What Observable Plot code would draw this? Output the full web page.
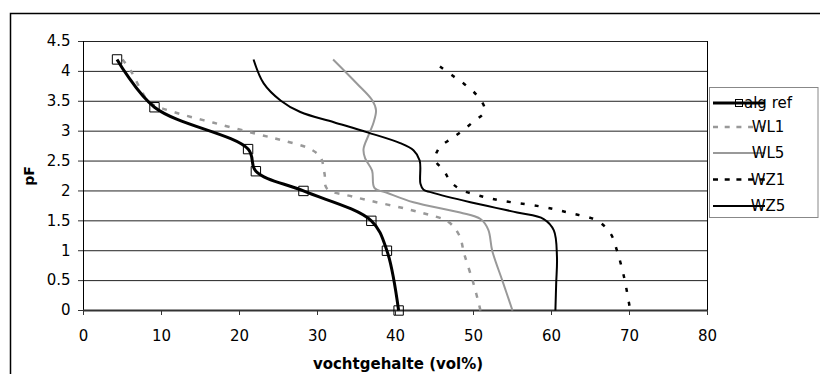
<!DOCTYPE html>
<html>
<head>
<meta charset="utf-8">
<script src="https://cdn.jsdelivr.net/npm/d3@7"></script>
<script src="https://cdn.jsdelivr.net/npm/@observablehq/plot@0.6"></script>
<style>
  html, body { margin: 0; padding: 0; background: #fff; }
  #chart { width: 820px; height: 374px; overflow: hidden; }
</style>
</head>
<body>
<div id="chart"></div>
<script>
// ---- tick labels ----
const xTicks = [0, 10, 20, 30, 40, 50, 60, 70, 80];
const yTicks = [0, 0.5, 1, 1.5, 2, 2.5, 3, 3.5, 4, 4.5];

// ---- series (x = vochtgehalte vol%, y = pF) ----
const seriesNames = ["alg ref", "WL1", "WL5", "WZ1", "WZ5"];

const algRefX  = [4.3, 9.1, 21.1, 22.1, 28.2, 36.9, 38.9, 40.4];
const algRefPF = [4.2, 3.4, 2.7, 2.33, 2.0, 1.5, 1.0, 0];

const wl1X  = [5.0, 6.2, 7.2, 8.5, 11.6, 16.7, 22.3, 25.7, 29.1, 30.4, 30.9, 31.2, 34.7, 43.2, 46.8, 48.2, 48.8, 50.0, 50.9];
const wl1PF = [4.2, 3.98, 3.73, 3.48, 3.32, 3.14, 2.95, 2.84, 2.70, 2.56, 2.29, 2.04, 1.9, 1.64, 1.48, 1.25, 0.95, 0.45, 0];

const wl5X  = [32.0, 35.1, 37.0, 37.5, 37.2, 36.6, 35.9, 36.1, 37.0, 37.3, 38.9, 42.3, 48.3, 50.9, 51.9, 52.4, 53.7, 55.0];
const wl5PF = [4.2, 3.79, 3.52, 3.35, 3.15, 2.95, 2.7, 2.55, 2.34, 2.05, 1.97, 1.81, 1.64, 1.53, 1.35, 1.0, 0.5, 0];

const wz1X  = [45.7, 47.3, 48.8, 50.3, 51.4, 51.3, 50.0, 48.5, 47.1, 45.6, 45.1, 46.2, 47.1, 48.4, 50.5, 53.5, 58.6, 62.4, 65.9, 67.6, 68.4, 69.3, 70.1];
const wz1PF = [4.08, 3.93, 3.79, 3.62, 3.4, 3.3, 3.16, 3.0, 2.87, 2.72, 2.52, 2.34, 2.15, 2.02, 1.93, 1.84, 1.74, 1.63, 1.5, 1.28, 1.0, 0.56, 0];

const wz5X  = [21.8, 23.1, 25.3, 27.8, 32.1, 36.4, 40.6, 42.3, 43.1, 43.2, 43.6, 44.5, 49.6, 55.6, 59.0, 60.3, 60.7, 60.6, 60.5];
const wz5PF = [4.2, 3.8, 3.51, 3.32, 3.15, 2.98, 2.8, 2.68, 2.51, 2.12, 2.02, 1.98, 1.81, 1.64, 1.53, 1.34, 0.9, 0.45, 0];

// ---- build rows ----
const rows = (name, xs, ys) => xs.map((x, i) => ({ name, x, y: ys[i] }));
const styles = {
  "alg ref": { stroke: "#000", width: 3,   dash: null,   legendDash: null },
  "WL1":     { stroke: "#999", width: 2.5, dash: "5,8",  legendDash: "5,6.7" },
  "WL5":     { stroke: "#999", width: 2,   dash: null,   legendDash: null },
  "WZ1":     { stroke: "#000", width: 2.5, dash: "4,10", legendDash: "5,6.7" },
  "WZ5":     { stroke: "#000", width: 2,   dash: null,   legendDash: null }
};
const data = {
  "alg ref": rows("alg ref", algRefX, algRefPF),
  "WL1": rows("WL1", wl1X, wl1PF),
  "WL5": rows("WL5", wl5X, wl5PF),
  "WZ1": rows("WZ1", wz1X, wz1PF),
  "WZ5": rows("WZ5", wz5X, wz5PF)
};

const drawOrder = ["WL1", "WL5", "WZ1", "WZ5", "alg ref"];
const lineMarks = drawOrder.map(n => Plot.line(data[n], {
  x: "x", y: "y", curve: "catmull-rom",
  stroke: styles[n].stroke, strokeWidth: styles[n].width,
  strokeDasharray: styles[n].dash, strokeLinecap: "butt", strokeLinejoin: "round"
}));

const plot = Plot.plot({
  width: 820, height: 374,
  marginLeft: 83, marginRight: 113, marginTop: 41, marginBottom: 64,
  style: { fontFamily: "DejaVu Sans, sans-serif", fontSize: "15px", color: "#000", background: "#fff", overflow: "hidden" },
  x: { domain: [0, 80], label: null },
  y: { domain: [0, 4.5], label: null },
  marks: [
    Plot.ruleY(yTicks.filter(d => d > 0), { stroke: "#222", strokeWidth: 1 }),
    Plot.ruleX([80], { stroke: "#000", strokeWidth: 1 }),
    Plot.ruleX([0], { stroke: "#000", strokeWidth: 1 }),
    Plot.axisX({ ticks: xTicks, tickSize: 5, tickPadding: 15, tickFormat: d => String(d), label: null, stroke: "#333" }),
    Plot.axisY({ ticks: yTicks, tickSize: 5, tickPadding: 8, tickFormat: d => String(d), label: null, stroke: "#333" }),
    Plot.ruleY([0], { stroke: "#333", strokeWidth: 2 }),
    ...lineMarks,
    Plot.dot(data["alg ref"], { x: "x", y: "y", symbol: "square", r: 5.3, stroke: "#000", fill: "none", strokeWidth: 1 })
  ]
});

const svg = d3.select(plot);

// outer chart-area border (top & left visible; extends past the window)
svg.append("rect")
  .attr("x", 10.5).attr("y", 13.5).attr("width", 900).attr("height", 500)
  .attr("fill", "none").attr("stroke", "#000").attr("stroke-width", 1.5);

// axis titles
svg.append("text")
  .attr("x", 398).attr("y", 368.5)
  .attr("text-anchor", "middle")
  .attr("font-weight", "bold").attr("font-size", 15)
  .text("vochtgehalte (vol%)");
svg.append("text")
  .attr("transform", "translate(34,176) rotate(-90)")
  .attr("text-anchor", "middle")
  .attr("font-weight", "bold").attr("font-size", 14)
  .text("pF");

// legend
const lg = svg.append("g");
lg.append("rect")
  .attr("x", 709.5).attr("y", 87.5).attr("width", 108.5).attr("height", 130)
  .attr("fill", "#fff").attr("stroke", "#888").attr("stroke-width", 1);
const legendY = [103, 127, 153, 179.5, 206];
seriesNames.forEach((n, i) => {
  const s = styles[n];
  const y = legendY[i];
  lg.append("line")
    .attr("x1", 713).attr("x2", 765).attr("y1", y).attr("y2", y)
    .attr("stroke", s.stroke).attr("stroke-width", s.width)
    .attr("stroke-dasharray", s.legendDash);
  if (n === "alg ref") {
    lg.append("rect")
      .attr("x", 735.5).attr("y", y - 3.5).attr("width", 7).attr("height", 7)
      .attr("fill", "none").attr("stroke", "#000").attr("stroke-width", 1);
  }
  lg.append("text")
    .attr("x", 768).attr("y", y + 5.3)
    .attr("font-size", 15)
    .text(n);
});

document.getElementById("chart").appendChild(plot);
</script>
</body>
</html>
